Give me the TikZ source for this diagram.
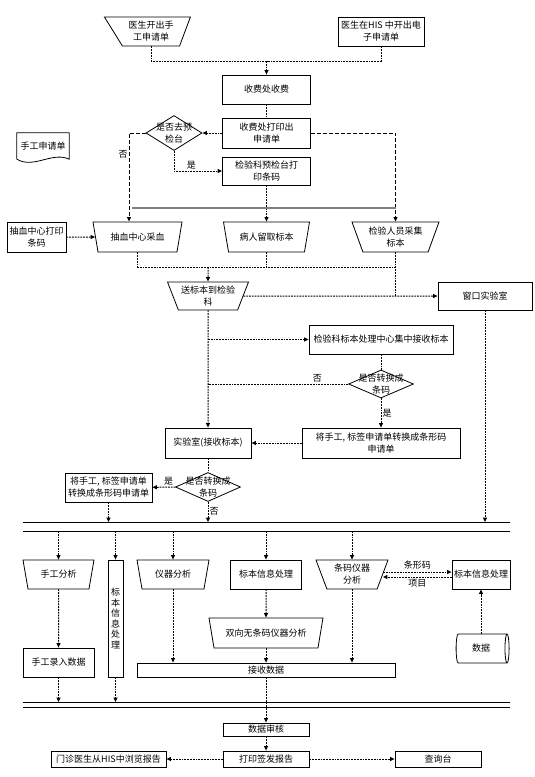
\documentclass[tikz,border=0pt]{standalone}
\usepackage{fontspec}
\setmainfont{Noto Sans CJK SC}
\usetikzlibrary{shapes.geometric, arrows.meta, positioning}
\tikzstyle{rnode} = [rectangle, draw, line width=0.8pt, inner sep=1pt, align=center, font=\fontsize{9}{12}\selectfont]
\tikzstyle{tnode} = [trapezium, draw, line width=0.8pt, shape border rotate=180, trapezium angle=64, trapezium stretches body, inner sep=1pt, align=center, font=\fontsize{9}{12}\selectfont]
\tikzstyle{dnode} = [diamond, draw, line width=0.8pt, inner sep=-5pt, aspect=2, align=center, font=\fontsize{9}{12}\selectfont]
\tikzstyle{cnode} = [cylinder, draw, line width=0.8pt, aspect=0.4, inner sep=1pt, font=\fontsize{9}{12}\selectfont]
\tikzstyle{tag} = [inner sep=1pt, font=\fontsize{9}{12}\selectfont]
\tikzstyle{line} = [draw, line width=1pt, dash pattern=on 1.8pt off 1pt]
\tikzstyle{longline} = [draw, line width=1pt, dash pattern=on 4pt off 2pt]
\tikzstyle{aline} = [line, -{Triangle[length=4.5pt,width=4pt]}]
\tikzstyle{longaline} = [longline, -{Triangle[length=4.5pt,width=4pt]}]
\tikzstyle{bus} = [draw, line width=1pt]
\tikzstyle{grayline} = [draw, gray, line width=1.2pt]

\begin{document}
\begin{tikzpicture}[x=1pt, y=-1pt]
	\useasboundingbox (0,0) rectangle (535,777);
	% top part
	\node [tnode, trapezium right angle=51, minimum width=86, minimum height=29] (handreq) at (151,31.5) {医生开出手\\工申请单};
	\node [rnode, minimum width=86, minimum height=29] (hisreq) at (381,31.5) {医生在HIS 中开出电\\子申请单};
	\node [rnode, minimum width=88, minimum height=29] (charge) at (266.5,89.5) {收费处收费};
	\node [rnode, minimum width=88, minimum height=30] (printreq) at (266.5,133) {收费处打印出\\申请单};
	\node [dnode, minimum width=56, minimum height=35] (predesk) at (174,133) {是否去预\\检台};
	\node [rnode, minimum width=88, minimum height=28] (prebar) at (266.5,171) {检验科预检台打\\印条码};
	\node [tag, minimum width=52, minimum height=26] (handdoc) at (43,146) {手工申请单};
	\draw [line width=0.8pt] (handdoc.south west) -- (handdoc.north west) -- (handdoc.north east) -- (handdoc.south east) .. controls +(-17,-8) and +(17,10) .. (handdoc.south west);

	% sampling
	\node [rnode, minimum width=59, minimum height=30] (bloodbar) at (36.5,237) {抽血中心打印\\条码};
	\node [tnode, minimum width=89, minimum height=30] (blood) at (137.5,237) {抽血中心采血};
	\node [tnode, minimum width=86, minimum height=30] (patient) at (266.5,237) {病人留取标本};
	\node [tnode, minimum width=87, minimum height=30] (staff) at (395.5,237) {检验人员采集\\标本};
	\node [tnode, minimum width=81, minimum height=28] (send) at (208,296) {送标本到检验\\科};
	\node [rnode, minimum width=94, minimum height=28] (window) at (485,296) {窗口实验室};
	\node [rnode, minimum width=144, minimum height=29] (hub) at (381,339.5) {检验科标本处理中心集中接收标本};
	\node [dnode, minimum width=65, minimum height=28] (conv1) at (381,384) {是否转换成\\条码};
	\node [rnode, minimum width=158, minimum height=30] (convbox1) at (381,443) {将手工, 标签申请单转换成条形码\\申请单};
	\node [rnode, minimum width=86, minimum height=30] (lab) at (208,443) {实验室(接收标本)};
	\node [dnode, minimum width=65, minimum height=29] (conv2) at (208,487) {是否转换成\\条码};
	\node [rnode, minimum width=87, minimum height=29] (convbox2) at (108.5,487.5) {将手工, 标签申请单\\转换成条形码申请单};

	% bus lines
	\coordinate (busAl) at (23,522);
	\coordinate (busAr) at (510,522);
	\coordinate (busBl) at (23,531);
	\coordinate (busBr) at (510,531);
	\coordinate (busCl) at (23,702);
	\coordinate (busCr) at (510,702);
	\coordinate (busDl) at (23,707.5);
	\coordinate (busDr) at (510,707.5);

	% analysis
	\node [tnode, minimum width=71, minimum height=29] (handan) at (58.5,574.5) {手工分析};
	\node [rnode, minimum width=15, minimum height=117, font=\fontsize{9}{10.5}\selectfont] (tallbox) at (115.5,618.5) {标\\本\\信\\息\\处\\理};
	\node [tnode, minimum width=72, minimum height=29] (instr) at (173,574.5) {仪器分析};
	\node [rnode, minimum width=71, minimum height=29] (info1) at (266,574.5) {标本信息处理};
	\node [tnode, minimum width=72, minimum height=29] (barinstr) at (352,574.5) {条码仪器\\分析};
	\node [rnode, minimum width=58, minimum height=29] (info2) at (481,574.5) {标本信息处理};
	\node [tnode, minimum width=114, minimum height=30] (bidir) at (266,633) {双向无条码仪器分析};
	\node [cnode, minimum width=29, minimum height=53] (store) at (481,648.5) {数据};
	\node [rnode, minimum width=71, minimum height=29] (handin) at (58.5,662.5) {手工录入数据};
	\node [rnode, minimum width=258, minimum height=14] (recv) at (266,670) {接收数据};
	\node [rnode, minimum width=86, minimum height=13] (audit) at (266,729.5) {数据审核};
	\node [rnode, minimum width=86, minimum height=16] (print) at (266,759) {打印签发报告};
	\node [rnode, minimum width=115, minimum height=16] (his) at (108.5,759) {门诊医生从HIS中浏览报告};
	\node [rnode, minimum width=86, minimum height=16] (query) at (438,759) {查询台};

	% connectors
	\coordinate (join1) at (266.5,61);
	\path [line] (handreq) |- (join1);
	\path [line] (hisreq) |- (join1);
	\path [aline] (join1) -- (charge);
	\path [line] (charge) -- (printreq);
	\path [aline] (printreq) -- (predesk);
	\path [longaline] (predesk.west) -| node [tag, pos=0.62, left] {否} ([xshift=-8.5]blood.north);
	\path [aline] (predesk.south) |- node [tag, pos=0.68, above] {是} (prebar.west);
	\path [longaline] (printreq.east) -| (staff.north);
	\path [aline] (prebar) -- (patient);
	\coordinate (grayl) at (132,208);
	\coordinate (grayr) at (396,208);
	\path [grayline] (grayl) -- (grayr);
	\path [aline] (bloodbar) -- (blood);
	\coordinate (join2) at (208,267);
	\path [line] (blood.south) |- (join2);
	\path [line] (staff.south) |- (join2);
	\path [line] (patient.south) -- (patient.south |- join2);
	\path [aline] (join2) -- (send.north);
	\path [aline] (send.east) -- (window.west);
	\path [line] (staff.south) -- (staff.south |- window.west);
	\path [aline] (window.south) -- (window.south |- busAl);
	\path [aline] (send.south) -- (lab.north);
	\path [aline] (send.south |- hub.west) -- (hub.west);
	\path [line] (hub) -- (conv1);
	\path [line] (conv1.west) -- node [tag, pos=0.22, above] {否} (conv1.west -| send.south);
	\path [aline] (conv1) -- node [tag, pos=0.5, right] {是} (convbox1);
	\path [aline] (convbox1) -- (lab);
	\path [line] (lab) -- (conv2);
	\path [aline] (conv2) -- node [tag, pos=0.3, above] {是} (convbox2);
	\path [aline] (conv2.south) -- node [tag, pos=0.45, right] {否} (conv2.south |- busAl);
	\path [aline] (convbox2.south) -- (convbox2.south |- busAl);

	\path [bus] (busAl) -- (busAr);
	\path [bus] (busBl) -- (busBr);
	\path [bus] (busCl) -- (busCr);
	\path [bus] (busDl) -- (busDr);

	\path [aline] (handan.north |- busBl) -- (handan.north);
	\path [aline] (tallbox.north |- busBl) -- (tallbox.north);
	\path [aline] (instr.north |- busBl) -- (instr.north);
	\path [aline] (info1.north |- busBl) -- (info1.north);
	\path [aline] (barinstr.north |- busBl) -- (barinstr.north);
	\path [aline] ([yshift=2.5]barinstr.east) -- node [tag, above=1pt] {条形码} ([yshift=2.5]barinstr.east -| info2.west);
	\path [aline] ([yshift=-2.5]info2.west) -- node [tag, below=1pt] {项目} ([yshift=-2.5]info2.west -| barinstr.east);
	\path [aline] (store.north) -- (store.north |- info2.south);
	\path [aline] (handan) -- (handin);
	\path [aline] (info1) -- (bidir);
	\path [aline] (instr.south) -- (instr.south |- recv.north);
	\path [aline] (bidir.south) -- (bidir.south |- recv.north);
	\path [aline] (barinstr.south) -- (barinstr.south |- recv.north);
	\path [aline] (handin.south) -- (handin.south |- busCl);
	\path [aline] (tallbox.south) -- (tallbox.south |- busCl);
	\path [aline] (recv) -- (audit);
	\path [aline] (audit) -- (print);
	\path [aline] (print) -- (his);
	\path [aline] (print) -- (query);
\end{tikzpicture}
\end{document}
